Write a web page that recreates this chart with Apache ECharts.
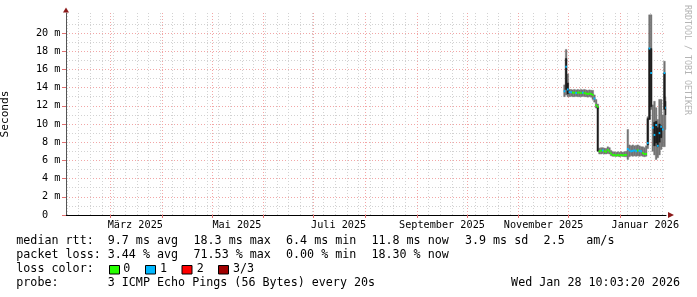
<!DOCTYPE html>
<html><head><meta charset="utf-8">
<script src="https://cdn.jsdelivr.net/npm/echarts@6/dist/echarts.min.js"></script>
<style>html,body{margin:0;padding:0;background:#fff}#c{width:697px;height:297px}</style>
</head><body><div id="c"></div>
<script>
// ---- time range of the graph ----
const rangeStart = '2025-02-02T10:03:20Z';
const rangeEnd = '2026-01-28T10:03:20Z';

// ---- daily consolidated samples ----
const dayDates = [
 '2025-11-28','2025-11-29','2025-11-30',
 '2025-12-01','2025-12-02','2025-12-03','2025-12-04','2025-12-05','2025-12-06','2025-12-07','2025-12-08','2025-12-09','2025-12-10',
 '2025-12-11','2025-12-12','2025-12-13','2025-12-14','2025-12-15','2025-12-16','2025-12-17','2025-12-18','2025-12-19','2025-12-20',
 '2025-12-21','2025-12-22','2025-12-23','2025-12-24','2025-12-25','2025-12-26','2025-12-27','2025-12-28','2025-12-29','2025-12-30','2025-12-31',
 '2026-01-01','2026-01-02','2026-01-03','2026-01-04','2026-01-05','2026-01-06','2026-01-07','2026-01-08','2026-01-09','2026-01-10',
 '2026-01-11','2026-01-12','2026-01-13','2026-01-14','2026-01-15','2026-01-16','2026-01-17','2026-01-18','2026-01-19','2026-01-20',
 '2026-01-21','2026-01-22','2026-01-23','2026-01-24','2026-01-25','2026-01-26','2026-01-27','2026-01-28'
];
// smoke (ping spread) in ms
const smokeLow = [13.0,13.2,13.0, 13.0,13.05,13.0,13.0,13.05,13.0,13.0,13.0,13.05,13.0, 13.0,12.95,13.0,12.95,12.7,12.4,11.75,11.7,6.7,6.7,
 6.75,6.7,6.7,6.75,6.7,6.5,6.45,6.45,6.45,6.45,6.4, 6.45,6.45,6.4,6.4,6.1,6.4,6.5,6.45,6.5,6.45, 6.5,6.45,6.5,6.45,6.4,6.45,7.3,10.5,11.6,7.0,
 6.6,6.1,6.3,6.6,7.2,7.5,7.5,9.4];
const smokeHigh = [14.3,18.2,15.5, 13.8,13.8,13.75,13.8,13.75,13.8,13.75,13.8,13.75,13.8, 13.75,13.7,13.75,13.7,13.7,13.2,12.7,12.2,7.35,7.4,
 7.4,7.35,7.3,7.5,7.4,7.1,6.95,6.95,6.9,6.95,6.9, 6.95,6.9,6.95,7.0,9.4,7.7,7.6,7.7,7.6,7.65, 7.7,7.6,7.5,7.5,7.4,7.6,10.8,22.0,22.0,12.1,
 12.5,11.8,10.5,12.7,12.7,11.0,16.9,13.0];
// dense (dark) part of the smoke in ms
const coreLow = [null,13.8,13.3, null,null,null,null,null,null,null,null,null,null, null,null,null,null,null,null,null,7.0,null,null,
 null,null,null,null,null,null,null,null,null,null,null, null,null,null,null,null,null,null,null,null,null, null,null,null,null,null,null,7.7,10.5,11.9,null,
 7.6,7.9,7.5,8.0,8.5,null,11.6,11.0];
const coreHigh = [null,17.2,14.5, null,null,null,null,null,null,null,null,null,null, null,null,null,null,null,null,null,11.9,null,null,
 null,null,null,null,null,null,null,null,null,null,null, null,null,null,null,null,null,null,null,null,null, null,null,null,null,null,null,10.6,18.3,18.3,null,
 10.2,10.3,9.6,10.0,9.8,null,15.6,12.5];
// median rtt in ms
const medianRtt = [13.6,16.3,13.8, 13.5,13.5,13.45,13.45,13.4,13.45,13.45,13.4,13.45,13.4, 13.35,13.3,13.35,13.3,13.2,12.8,12.05,11.9,7.0,7.05,
 7.1,7.0,6.95,7.15,7.0,6.75,6.6,6.6,6.55,6.6,6.55, 6.6,6.55,6.6,6.6,7.25,7.1,7.0,7.05,7.1,7.0, 7.1,7.05,7.0,6.8,6.7,6.7,7.9,18.3,15.6,9.6,
 8.8,9.9,7.6,9.0,9.7,9.4,15.6,11.8];
// lost pings (of 3)
const lossLevel = [1,1,1, 1,1,0,0,1,0,0,0,1,0, 0,0,0,0,0,1,0,0,0,0,
 1,0,0,0,0,0,0,0,0,0,0, 0,0,0,0,1,1,1,1,1,1, 0,1,1,0,0,0,1,1,1,1,
 1,1,1,1,1,1,1,1];

const lossColors = ['#26ff00','#00b8ff','#ff0000','#a00000'];
const lossLabels = ['0','1','2','3/3'];

// ---- axis ticks ----
const yTickValues = [0,2,4,6,8,10,12,14,16,18,20];
const yTickLabels = ['0  ','2 m','4 m','6 m','8 m','10 m','12 m','14 m','16 m','18 m','20 m'];
const yMinorValues = [1,3,5,7,9,11,13,15,17,19,21];
const monthLineDates = ['2025-03-01','2025-04-01','2025-05-01','2025-06-01','2025-07-01','2025-08-01','2025-09-01','2025-10-01','2025-11-01','2025-12-01','2026-01-01'];
const xLabelDates = ['2025-03-16','2025-05-16','2025-07-16','2025-09-16','2025-11-16','2026-01-16'];
const xLabelTexts = ['März 2025','Mai 2025','Juli 2025','September 2025','November 2025','Januar 2026'];
const firstWeekLine = '2025-02-03';

// ---- legend texts ----
const statRows = [
  {y:241, items:[[16.3,'median rtt:'],[107.7,'9.7 ms avg'],[193.5,'18.3 ms max'],[286,'6.4 ms min'],[371.4,'11.8 ms now'],[464.9,'3.9 ms sd'],[543.6,'2.5'],[586.3,'am/s']]},
  {y:254.8, items:[[16.3,'packet loss:'],[107.7,'3.44 % avg'],[193.5,'71.53 % max'],[286,'0.00 % min'],[371.4,'18.30 % now']]},
  {y:268.8, items:[[16.3,'loss color:']]},
  {y:282.8, items:[[16.3,'probe:'],[107.7,'3 ICMP Echo Pings (56 Bytes) every 20s']]}
];
const stamp = 'Wed Jan 28 10:03:20 2026';
const watermark = 'RRDTOOL / TOBI OETIKER';

// ---- build ----
const START = Date.parse(rangeStart), END = Date.parse(rangeEnd);
const DAY = 86400000;
const weekLines = [];
for (let t = Date.parse(firstWeekLine); t < END; t += 7 * DAY) weekLines.push(t);
const monthLines = monthLineDates.map(d => Date.parse(d));
const xLabelTimes = xLabelDates.map(d => Date.parse(d));

const smokeData = [], coreData = [], medianData = [];
dayDates.forEach((d, i) => {
  const t0 = Date.parse(d);
  const t1 = i + 1 < dayDates.length ? Date.parse(dayDates[i + 1]) : END;
  smokeData.push([t0, t1, smokeLow[i], smokeHigh[i]]);
  if (coreLow[i] != null) coreData.push([t0, t1, coreLow[i], coreHigh[i]]);
  medianData.push([t0, t1, medianRtt[i], lossLevel[i]]);
});

function band(color) {
  return function (params, api) {
    const a = api.coord([api.value(0), api.value(3)]);
    const b = api.coord([api.value(1), api.value(2)]);
    return {type: 'rect', shape: {x: a[0], y: a[1], width: b[0] - a[0], height: b[1] - a[1]},
      style: {fill: color, stroke: color, lineWidth: 0.4}};
  };
}

const MONO = 'DejaVu Sans Mono';
const tickFont = {fontFamily: MONO, fontSize: 10.2, color: '#000'};
const minorGrid = {color: '#d2d2d2', type: [1, 2], width: 1};
const majorGrid = {color: '#f2a6a6', type: [1, 2], width: 1};
const arrowColor = '#8b1a1a';

const graphics = [];
statRows.forEach(r => r.items.forEach(it => graphics.push({type: 'text', x: it[0], y: r.y,
  style: {text: it[1], fontFamily: MONO, fontSize: 11.7, fill: '#000', align: 'left', verticalAlign: 'middle', textAlign: 'left', textVerticalAlign: 'middle'}})));
const boxX = [109.5, 145.5, 182, 218.5];
const boxLabelX = [123.3, 160, 196.7, 233];
lossColors.forEach((c, i) => {
  graphics.push({type: 'rect', shape: {x: boxX[i], y: 265.5, width: 10, height: 8.5}, style: {fill: c, stroke: '#000', lineWidth: 1}});
  graphics.push({type: 'text', x: boxLabelX[i], y: 268.8, style: {text: lossLabels[i], fontFamily: MONO, fontSize: 11.7, fill: '#000', align: 'left', verticalAlign: 'middle', textAlign: 'left', textVerticalAlign: 'middle'}});
});
graphics.push({type: 'text', x: 680, y: 282.8, style: {text: stamp, fontFamily: MONO, fontSize: 11.7, fill: '#000', align: 'right', verticalAlign: 'middle', textAlign: 'right', textVerticalAlign: 'middle'}});
graphics.push({type: 'text', x: 687, y: 60, rotation: -Math.PI / 2, style: {text: watermark, fontFamily: MONO, fontSize: 8.3, fill: '#b4b4b4', align: 'center', verticalAlign: 'middle', textAlign: 'center', textVerticalAlign: 'middle'}});

const chart = echarts.init(document.getElementById('c'), null, {renderer: 'canvas'});
chart.setOption({
  animation: false,
  backgroundColor: '#fff',
  grid: {left: 66, top: 13, width: 600, height: 202, containLabel: false, outerBoundsMode: 'none'},
  xAxis: [
    {type: 'value', min: START, max: END, position: 'bottom',
      axisLine: {show: true, onZero: false, lineStyle: {color: '#000', width: 1}},
      axisTick: {show: false, customValues: weekLines},
      axisLabel: {show: false},
      splitLine: {show: true, lineStyle: minorGrid}},
    {type: 'value', min: START, max: END, position: 'bottom',
      axisLine: {show: false, onZero: false},
      axisTick: {show: true, customValues: monthLines, length: 3, lineStyle: {color: '#e07070'}},
      axisLabel: {show: true, customValues: xLabelTimes, margin: 5, ...tickFont,
        formatter: v => { const k = xLabelTimes.findIndex(t => Math.abs(t - v) < 1000); return k >= 0 ? xLabelTexts[k] : ''; }},
      splitLine: {show: true, lineStyle: majorGrid}},
    {type: 'value', min: START, max: END, position: 'bottom',
      axisLine: {show: true, onZero: false, symbol: ['none', 'triangle'], symbolSize: [6, 6], symbolOffset: [0, 5], lineStyle: {color: arrowColor, opacity: 0}},
      axisTick: {show: false}, axisLabel: {show: false}, splitLine: {show: false}}
  ],
  yAxis: [
    {type: 'value', min: 0, max: 22.2, position: 'left',
      name: 'Seconds', nameLocation: 'middle', nameGap: 55, nameRotate: 90,
      nameTextStyle: {fontFamily: MONO, fontSize: 11.2, color: '#000'},
      axisLine: {show: true, onZero: false, lineStyle: {color: '#555', width: 1}},
      axisTick: {show: false, customValues: yMinorValues},
      axisLabel: {show: false},
      splitLine: {show: true, lineStyle: minorGrid}},
    {type: 'value', min: 0, max: 22.2, position: 'left',
      axisLine: {show: false, onZero: false},
      axisTick: {show: true, customValues: yTickValues, length: 4, lineStyle: {color: '#e07070'}},
      axisLabel: {show: true, customValues: yTickValues, margin: 5.5, ...tickFont,
        formatter: v => { const k = yTickValues.indexOf(v); return k >= 0 ? yTickLabels[k] : ''; }},
      splitLine: {show: true, lineStyle: majorGrid}},
    {type: 'value', min: 0, max: 22.2, position: 'left',
      axisLine: {show: true, onZero: false, symbol: ['none', 'triangle'], symbolSize: [6, 5], symbolOffset: [0, 3], lineStyle: {color: arrowColor, opacity: 0}},
      axisTick: {show: false}, axisLabel: {show: false}, splitLine: {show: false}}
  ],
  series: [
    {type: 'custom', name: 'smoke', xAxisIndex: 0, yAxisIndex: 0, data: smokeData, encode: {x: [0, 1], y: [2, 3]}, renderItem: band('#747474'), silent: true, z: 2},
    {type: 'custom', name: 'core', xAxisIndex: 0, yAxisIndex: 0, data: coreData, encode: {x: [0, 1], y: [2, 3]}, renderItem: band('#1c1c1c'), silent: true, z: 3},
    {type: 'custom', name: 'median rtt', xAxisIndex: 0, yAxisIndex: 0, data: medianData, encode: {x: [0, 1], y: 2}, silent: true, z: 4,
      renderItem: function (params, api) {
        const a = api.coord([api.value(0), api.value(2)]);
        const b = api.coord([api.value(1), api.value(2)]);
        return {type: 'line', shape: {x1: a[0], y1: a[1], x2: b[0], y2: b[1]}, style: {stroke: lossColors[api.value(3)], lineWidth: 2}};
      }}
  ],
  graphic: graphics
});
</script></body></html>
